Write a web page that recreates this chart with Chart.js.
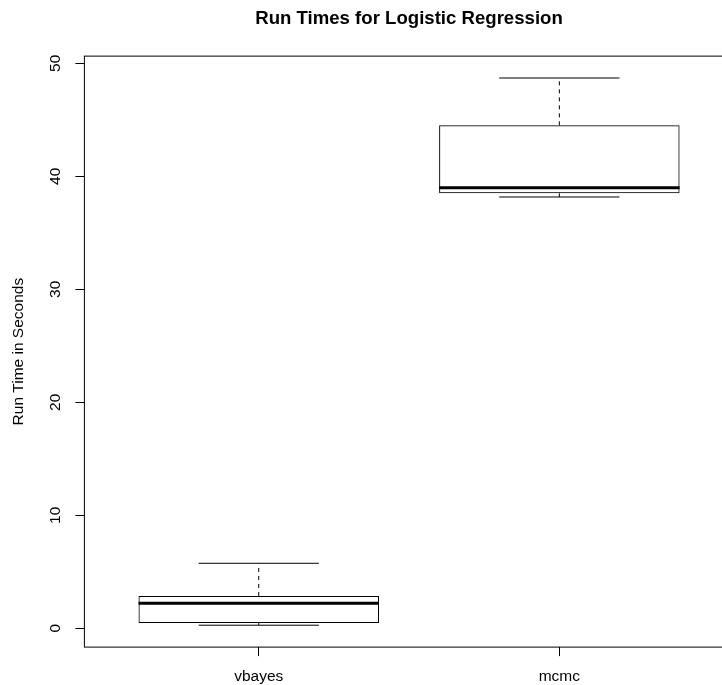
<!DOCTYPE html>
<html>
<head>
<meta charset="utf-8">
<title>Run Times for Logistic Regression</title>
<script src="https://cdn.jsdelivr.net/npm/chart.js@4.4.1/dist/chart.umd.min.js"></script>
<style>
  html, body { margin: 0; padding: 0; background: #fff; overflow: hidden; }
  canvas { display: block; }
</style>
</head>
<body>
<canvas id="runTimeChart" width="818" height="685"></canvas>
<script>
const categories = ['vbayes', 'mcmc'];
const whiskerLow = [0.27, 38.17];
const lowerQuartile = [0.47, 38.50];
const medians = [2.21, 38.99];
const upperQuartile = [2.86, 44.51];
const whiskerHigh = [5.75, 48.70];
const yTickValues = [0, 10, 20, 30, 40, 50];

const BOX_HALF = 0.4;
const CAP_HALF = 0.2;
const FONT = '"Liberation Sans", Arial, Helvetica, sans-serif';

// R style axis range: data range padded by 4% each side
const lo = Math.min(...whiskerLow);
const hi = Math.max(...whiskerHigh);
const yPad = (hi - lo) * 0.04;
const xPad = (categories.length) * 0.04;

// helper, joins one short segment per box with a gap in between
function segments(makeSeg) {
    const pts = [];
    categories.forEach((name, i) => {
        pts.push(...makeSeg(i + 1, i));
        pts.push({ x: i + 1, y: null });
    });
    return pts;
}

const boxData = categories.map((name, i) => ({ x: i + 1, y: [lowerQuartile[i], upperQuartile[i]] }));
const medianData = segments((x, i) => [{ x: x - BOX_HALF, y: medians[i] }, { x: x + BOX_HALF, y: medians[i] }]);
const upperWhisker = segments((x, i) => [{ x: x, y: upperQuartile[i] }, { x: x, y: whiskerHigh[i] }]);
const lowerWhisker = segments((x, i) => [{ x: x, y: lowerQuartile[i] }, { x: x, y: whiskerLow[i] }]);
const upperCap = segments((x, i) => [{ x: x - CAP_HALF, y: whiskerHigh[i] }, { x: x + CAP_HALF, y: whiskerHigh[i] }]);
const lowerCap = segments((x, i) => [{ x: x - CAP_HALF, y: whiskerLow[i] }, { x: x + CAP_HALF, y: whiskerLow[i] }]);

const frame = {
    id: 'frame',
    afterDraw(chart) {
        const { ctx, chartArea: a } = chart;
        ctx.save();
        ctx.strokeStyle = '#000';
        ctx.lineWidth = 1;
        ctx.strokeRect(a.left, a.top, a.right - a.left, a.bottom - a.top);
        ctx.restore();
    }
};

const lineStyle = { type: 'line', borderColor: '#000', borderWidth: 1, pointRadius: 0, fill: false, tension: 0 };

const ctx = document.getElementById('runTimeChart').getContext('2d');
new Chart(ctx, {
    type: 'bar',
    data: {
        datasets: [
            {
                type: 'bar',
                data: boxData,
                backgroundColor: 'rgba(255, 255, 255, 0)',
                borderColor: '#000',
                borderWidth: 1,
                borderSkipped: false,
                categoryPercentage: 1,
                barPercentage: 0.8
            },
            { ...lineStyle, data: upperWhisker, borderDash: [4, 4] },
            { ...lineStyle, data: lowerWhisker, borderDash: [4, 4] },
            { ...lineStyle, data: upperCap },
            { ...lineStyle, data: lowerCap },
            { ...lineStyle, data: medianData, borderWidth: 3, borderCapStyle: 'butt' }
        ]
    },
    options: {
        responsive: false,
        animation: false,
        plugins: {
            legend: { display: false },
            tooltip: { enabled: false },
            title: {
                display: true,
                text: 'Run Times for Logistic Regression',
                color: '#000',
                font: { family: FONT, size: 18.6, weight: 'bold' },
                padding: { top: 7.3, bottom: 26.5 }
            }
        },
        scales: {
            x: {
                type: 'linear',
                offset: false,
                min: 0.5 - xPad,
                max: categories.length + 0.5 + xPad,
                afterBuildTicks: (scale) => {
                    scale.ticks = categories.map((name, i) => ({ value: i + 1 }));
                },
                afterFit: (scale) => { scale.height = 37.9; },
                grid: { offset: false, drawOnChartArea: false, drawTicks: true, tickLength: 9, color: '#000', tickColor: '#000' },
                border: { display: false },
                ticks: {
                    autoSkip: false,
                    maxRotation: 0,
                    padding: 11.6,
                    color: '#000',
                    font: { family: FONT, size: 15.5 },
                    callback: (value) => categories[value - 1]
                }
            },
            y: {
                type: 'linear',
                min: lo - yPad,
                max: hi + yPad,
                afterBuildTicks: (scale) => {
                    scale.ticks = yTickValues.map(v => ({ value: v }));
                },
                afterFit: (scale) => { scale.width = 84.4; },
                grid: { drawOnChartArea: false, drawTicks: true, tickLength: 9, color: '#000', tickColor: '#000' },
                border: { display: false },
                title: {
                    display: true,
                    text: 'Run Time in Seconds',
                    color: '#000',
                    font: { family: FONT, size: 15.5 },
                    padding: { top: 9, bottom: 0 }
                },
                ticks: {
                    minRotation: 90,
                    maxRotation: 90,
                    crossAlign: 'center',
                    padding: 10.8,
                    color: '#000',
                    font: { family: FONT, size: 15.5 }
                }
            },
            // empty right margin, keeps the title centred over the plot like R does
            yRight: {
                position: 'right',
                display: true,
                grid: { display: false },
                border: { display: false },
                ticks: { display: false },
                afterFit: (scale) => { scale.width = 84.3; }
            }
        }
    },
    plugins: [frame]
});
</script>
</body>
</html>
